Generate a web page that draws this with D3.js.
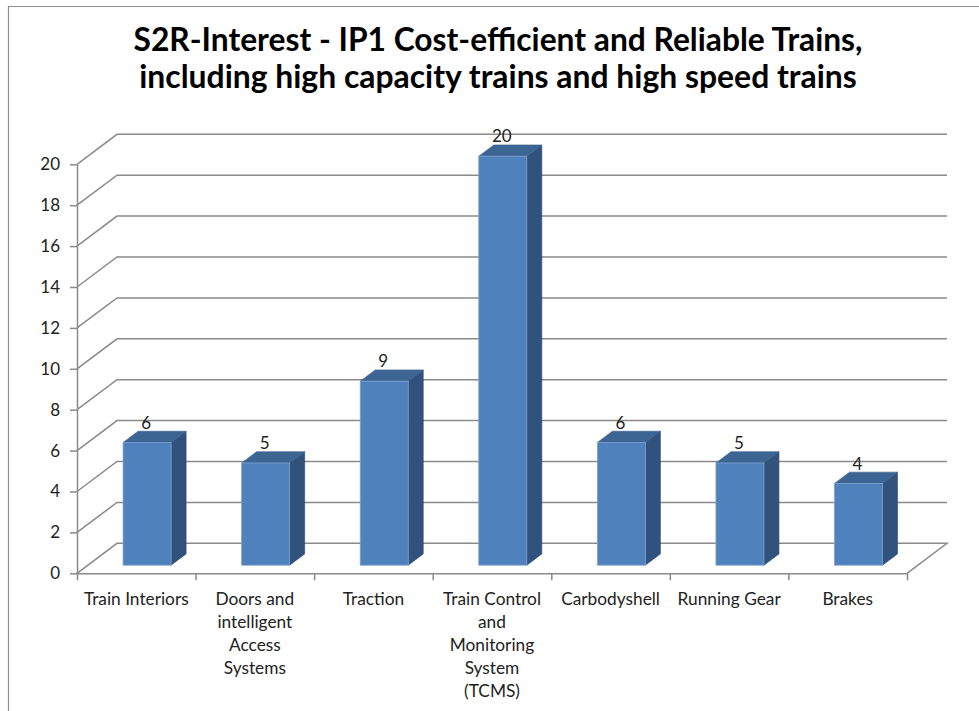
<!DOCTYPE html>
<html>
<head>
<meta charset="utf-8">
<script src="https://cdn.jsdelivr.net/npm/d3@7"></script>
<style>
  body { margin: 0; background: #fff; }
  svg { display: block; font-family: Lato, "Open Sans", "Noto Sans", sans-serif; }
</style>
</head>
<body>
<script>
// chart data
const titleLines = [
  "S2R-Interest - IP1 Cost-efficient and Reliable Trains,",
  "including high capacity trains and high speed trains"
];
const categories = [
  "Train Interiors",
  "Doors and intelligent Access Systems",
  "Traction",
  "Train Control and Monitoring System (TCMS)",
  "Carbodyshell",
  "Running Gear",
  "Brakes"
];
const values = [6, 5, 9, 20, 6, 5, 4];
const yTicks = [0, 2, 4, 6, 8, 10, 12, 14, 16, 18, 20];
const tickLabels = [
  ["Train Interiors"],
  ["Doors and", "intelligent", "Access", "Systems"],
  ["Traction"],
  ["Train Control", "and", "Monitoring", "System", "(TCMS)"],
  ["Carbodyshell"],
  ["Running Gear"],
  ["Brakes"]
];

const width = 979;
const height = 711;

// front plane of the 3d box, and depth offset of the back wall
const x0 = 77, x1 = 907;
const DX = 40, DY = -30;
const t1 = 0.27, t2 = 0.645;   // bar depth (fraction of box depth)
const gridColor = "#8a8a8a";

const svg = d3.select("body").append("svg")
  .attr("width", width)
  .attr("height", height);

// frame of the chart area
svg.append("path")
  .attr("d", "M8.5,711V6.5H979")
  .attr("fill", "none")
  .attr("stroke", "#8c8c8c")
  .attr("stroke-width", 1.2);

// title, scaled to the width it has in the picture
const titleWidths = [729, 718];
const titleY = [51, 88];
titleLines.forEach((t, i) => {
  const txt = svg.append("text")
    .attr("x", 498)
    .attr("y", titleY[i])
    .attr("text-anchor", "middle")
    .attr("font-weight", "bold")
    .attr("font-size", 28)
    .attr("fill", "#000")
    .text(t);
  const w = txt.node().getComputedTextLength();
  txt.attr("font-size", 28 * titleWidths[i] / w);
});

const y = d3.scaleLinear().domain([0, 20]).range([573.3, 164.3]);
const xBand = d3.scaleBand()
  .domain(categories)
  .range([x0, x1])
  .paddingInner(0.595)
  .paddingOuter(0.2975);
const xEdge = d3.scaleLinear().domain([0, categories.length]).range([x0, x1]);

const P = (x, v, t) => [x + t * DX, y(v) + t * DY];

// back wall + side wall grid lines
const grid = svg.append("g");
yTicks.filter(v => v > 0).forEach(v => {
  grid.append("path")
    .attr("d", d3.line()([P(x0, v, 0), P(x0, v, 1), P(x1, v, 1)]))
    .attr("fill", "none")
    .attr("stroke", gridColor)
    .attr("stroke-width", 1.5);
});
// floor
grid.append("path")
  .attr("d", d3.line()([P(x0, 0, 0), P(x0, 0, 1), P(x1, 0, 1), P(x1, 0, 0)]))
  .attr("fill", "none")
  .attr("stroke", gridColor)
  .attr("stroke-width", 1.5);

// y axis
const yAxis = svg.append("g")
  .attr("transform", `translate(${x0},0)`)
  .call(d3.axisLeft(y).tickValues(yTicks).tickSize(7).tickSizeOuter(0).tickPadding(10));
yAxis.selectAll("path, line").attr("stroke", gridColor).attr("stroke-width", 1.5);
yAxis.selectAll("text")
  .attr("font-size", 17)
  .attr("fill", "#222")
  .attr("font-family", "Lato, 'Open Sans', sans-serif");

// x axis (category boundaries)
const xAxis = svg.append("g")
  .attr("transform", `translate(0,${y(0)})`)
  .call(d3.axisBottom(xEdge).tickValues(d3.range(categories.length + 1)).tickFormat("").tickSize(7).tickSizeOuter(0));
xAxis.selectAll("path, line").attr("stroke", gridColor).attr("stroke-width", 1.5);

// category labels
categories.forEach((c, i) => {
  const cx = xEdge(i + 0.5);
  const t = svg.append("text")
    .attr("text-anchor", "middle")
    .attr("font-size", 17.3)
    .attr("fill", "#222");
  tickLabels[i].forEach((line, j) => {
    t.append("tspan")
      .attr("x", cx)
      .attr("y", 605 + j * 23)
      .text(line);
  });
});

// 3d bars
const bars = svg.append("g");
categories.forEach((c, i) => {
  const v = values[i];
  const bx = xBand(c);
  const bw = xBand.bandwidth();
  const fl = P(bx, 0, t1)[0], fr = P(bx + bw, 0, t1)[0];
  const fb = P(bx, 0, t1)[1], ft = P(bx, v, t1)[1];
  const bl = P(bx, 0, t2)[0], br = P(bx + bw, 0, t2)[0];
  const bb = P(bx, 0, t2)[1], bt = P(bx, v, t2)[1];

  // side face
  bars.append("path")
    .attr("d", d3.line()([[fr, ft], [br, bt], [br, bb], [fr, fb]]) + "Z")
    .attr("fill", "#30527c")
    .attr("stroke", "#2b4a70")
    .attr("stroke-width", 0.6);
  // top face
  bars.append("path")
    .attr("d", d3.line()([[fl, ft], [bl, bt], [br, bt], [fr, ft]]) + "Z")
    .attr("fill", "#3c6594")
    .attr("stroke", "#36608f")
    .attr("stroke-width", 0.6);
  // front face
  bars.append("rect")
    .attr("x", fl)
    .attr("y", ft)
    .attr("width", fr - fl)
    .attr("height", fb - ft)
    .attr("fill", "#4f81bd")
    .attr("stroke", "#7ea2cf")
    .attr("stroke-width", 0.8);

  // value label
  svg.append("text")
    .attr("x", (fl + fr) / 2 - 1)
    .attr("y", bt - 2.5)
    .attr("text-anchor", "middle")
    .attr("font-size", 17)
    .attr("fill", "#222")
    .text(v);
});
</script>
</body>
</html>
